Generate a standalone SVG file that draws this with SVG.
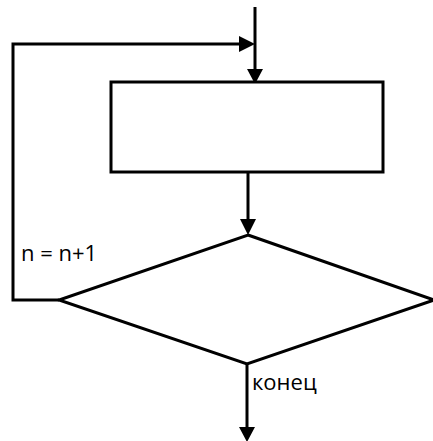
<svg xmlns="http://www.w3.org/2000/svg" width="433" height="441" viewBox="0 0 433 441">
<style>
.ln{fill:none;stroke:#000;stroke-width:3}
.nd{fill:#fff;stroke:#000;stroke-width:3}
.ah{fill:#000;stroke:none}
.lb{font-family:"Open Sans",sans-serif;font-size:22px;fill:#000}
</style>
<rect width="433" height="441" fill="#fff"/>
<g id="connectors">
<line class="ln" x1="255" y1="7" x2="255" y2="70"/>
<polygon class="ah" points="247,69 263,69 255,84"/>
<polyline class="ln" points="59,300 13,300 13,44 241,44"/>
<polygon class="ah" points="239,36 239,52 255,44"/>
<line class="ln" x1="248" y1="172" x2="248" y2="220"/>
<polygon class="ah" points="240,219 256,219 248,235"/>
<line class="ln" x1="247" y1="364" x2="247" y2="428"/>
<polygon class="ah" points="239,427 255,427 247,442"/>
</g>
<g id="process">
<rect class="nd" x="111" y="82" width="272" height="90"/>
</g>
<g id="decision">
<polygon class="nd" points="248,235 434,300 247,364 59,300"/>
</g>
<g id="labels">
<text class="lb" x="21" y="261">n = n+1</text>
<text class="lb" x="252" y="390">конец</text>
</g>
</svg>
